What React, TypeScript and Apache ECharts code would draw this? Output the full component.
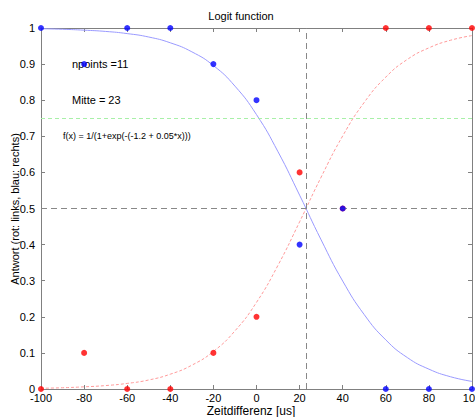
import React, { useEffect, useRef } from "react";
import * as echarts from "echarts";

// Measured points (x in us, response)
const pointX = [-100, -80, -60, -40, -20, 0, 20, 40, 60, 80, 100];
const redPoints = [0, 0.1, 0, 0, 0.1, 0.2, 0.6, 0.5, 1, 1, 1];
const bluePoints = [1, 0.9, 1, 1, 0.9, 0.8, 0.4, 0.5, 0, 0, 0];

// Fitted curves
const curveX = [-100, -90, -80, -70, -60, -50, -40, -30, -20, -10, 0, 10, 20, 30, 40, 50, 60, 70, 80, 90, 100];
const redCurve = [0.002, 0.0035, 0.006, 0.0095, 0.0155, 0.025, 0.041, 0.066, 0.104, 0.161, 0.24, 0.343, 0.463, 0.587, 0.701, 0.794, 0.864, 0.913, 0.945, 0.966, 0.979];
const blueCurve = [0.998, 0.9965, 0.994, 0.9905, 0.9845, 0.975, 0.959, 0.934, 0.896, 0.839, 0.76, 0.657, 0.537, 0.413, 0.299, 0.206, 0.136, 0.087, 0.055, 0.034, 0.021];

const midX = 23;
const halfY = 0.5;
const greenY = 0.75;

const titleText = "Logit function";
const xLabel = "Zeitdifferenz [us]";
const yLabel = "Antwort (rot: links, blau: rechts)";
const noteNpoints = "npoints =11";
const noteMitte = "Mitte = 23";
const noteFormula = "f(x) = 1/(1+exp(-(-1.2 + 0.05*x)))";

const FONT = "'Liberation Sans', Arial, Helvetica, sans-serif";

export default function App() {
  const ref = useRef<HTMLDivElement>(null);
  useEffect(() => {
    if (!ref.current) return;
    const chart = echarts.init(ref.current, undefined, { renderer: "svg" });
    const axisGray = "#808080";
    const baseX = {
      type: "value" as const,
      min: -100,
      max: 100,
      interval: 20,
      splitLine: { show: false },
      axisLine: { show: true, onZero: false, lineStyle: { color: axisGray, width: 1 } },
      axisTick: { show: true, inside: true, length: 4, lineStyle: { color: axisGray } },
    };
    const baseY = {
      type: "value" as const,
      min: 0,
      max: 1,
      interval: 0.1,
      splitLine: { show: false },
      axisLine: { show: true, onZero: false, lineStyle: { color: axisGray, width: 1 } },
      axisTick: { show: true, inside: true, length: 4, lineStyle: { color: axisGray } },
    };
    chart.setOption({
      animation: false,
      textStyle: { fontFamily: FONT },
      grid: { left: 41, right: 3, top: 28, bottom: 28, containLabel: false, outerBoundsMode: "none" },
      xAxis: [
        {
          ...baseX,
          position: "bottom",
          axisLabel: { color: "#000", fontSize: 11, fontFamily: FONT, margin: 3 },
        },
        { ...baseX, position: "top", axisLabel: { show: false } },
      ],
      yAxis: [
        {
          ...baseY,
          position: "left",
          axisLabel: { color: "#000", fontSize: 11, fontFamily: FONT, margin: 6 },
        },
        { ...baseY, position: "right", axisLabel: { show: false } },
      ],
      series: [
        {
          type: "line",
          data: curveX.map((x, i) => [x, redCurve[i]]),
          smooth: true,
          showSymbol: false,
          lineStyle: { color: "#ff9a9a", width: 1, type: [3, 2] },
          z: 2,
          markLine: {
            silent: true,
            symbol: "none",
            label: { show: false },
            lineStyle: { color: "#888888", width: 1, type: [6, 4] },
            data: [{ xAxis: midX }, { yAxis: halfY }],
          },
        },
        {
          type: "line",
          data: curveX.map((x, i) => [x, blueCurve[i]]),
          smooth: true,
          showSymbol: false,
          lineStyle: { color: "#9a9aff", width: 1 },
          z: 2,
          markLine: {
            silent: true,
            symbol: "none",
            label: { show: false },
            lineStyle: { color: "#a8f0a8", width: 1.2, type: [4, 3] },
            data: [{ yAxis: greenY }],
          },
        },
        {
          type: "scatter",
          data: pointX.map((x, i) => [x, redPoints[i]]),
          symbol: "circle",
          symbolSize: 6,
          clip: false,
          itemStyle: { color: "#ff0000" },
          z: 4,
        },
        {
          type: "scatter",
          data: pointX.map((x, i) => [x, bluePoints[i]]),
          symbol: "circle",
          symbolSize: 6,
          clip: false,
          itemStyle: { color: "#0000ff" },
          z: 5,
        },
      ],
      graphic: [
        {
          type: "text",
          x: 241,
          y: 16,
          style: { text: titleText, font: `11px ${FONT}`, fill: "#000", textAlign: "center", textVerticalAlign: "middle" },
        },
        {
          type: "text",
          x: 251,
          y: 411,
          style: { text: xLabel, font: `12px ${FONT}`, fill: "#000", textAlign: "center", textVerticalAlign: "middle" },
        },
        {
          type: "text",
          x: 15,
          y: 209,
          rotation: Math.PI / 2,
          style: { text: yLabel, font: `11px ${FONT}`, fill: "#000", textAlign: "center", textVerticalAlign: "middle" },
        },
        {
          type: "text",
          x: 72,
          y: 64,
          style: { text: noteNpoints, font: `11px ${FONT}`, fill: "#000", textAlign: "left", textVerticalAlign: "middle" },
        },
        {
          type: "text",
          x: 72,
          y: 100,
          style: { text: noteMitte, font: `11px ${FONT}`, fill: "#000", textAlign: "left", textVerticalAlign: "middle" },
        },
        {
          type: "text",
          x: 63,
          y: 136,
          style: { text: noteFormula, font: `9px ${FONT}`, fill: "#000", textAlign: "left", textVerticalAlign: "middle" },
        },
      ],
    });
    return () => chart.dispose();
  }, []);
  return <div ref={ref} style={{ width: 475, height: 417, position: "absolute", left: 0, top: 0 }} />;
}
